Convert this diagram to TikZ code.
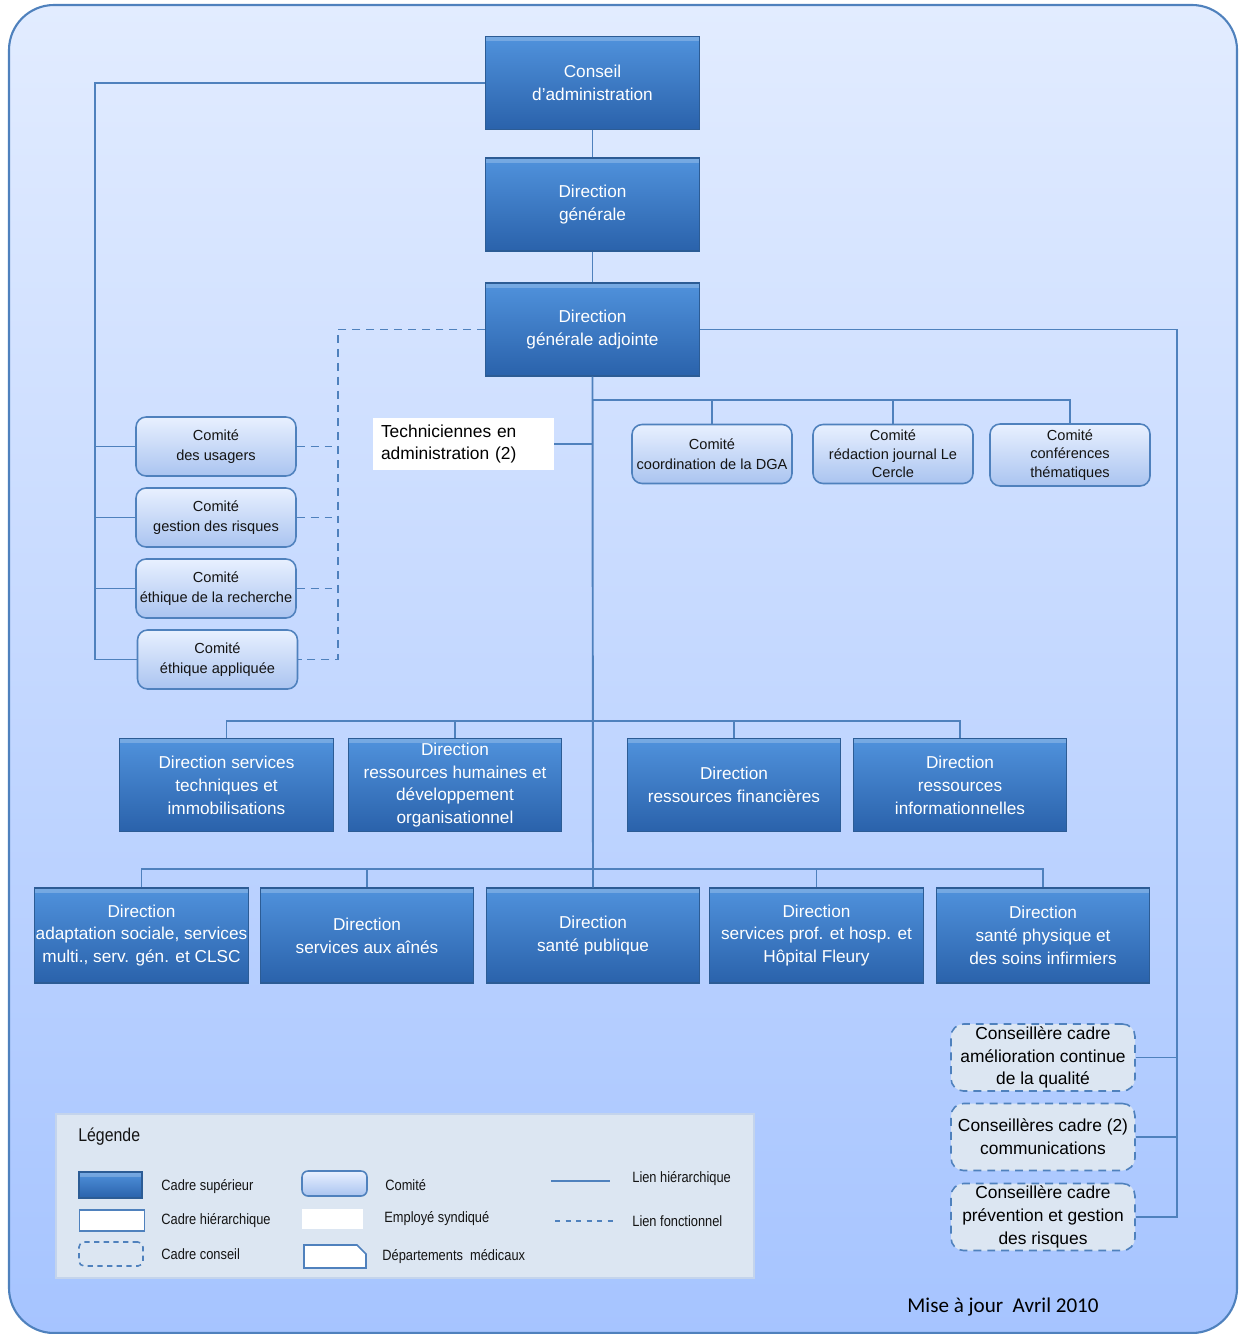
\documentclass[tikz,border=0pt]{standalone}
\usepackage{fontspec}
\setmainfont{Liberation Sans}
\newfontfamily\etroit{Liberation Sans}[FakeStretch=0.86]
\newfontfamily\calibri{Carlito}
\usetikzlibrary{positioning}

\definecolor{bleulien}{RGB}{79,129,189}
\definecolor{bordsup}{RGB}{44,92,149}
\definecolor{suphaut}{RGB}{80,146,220}
\definecolor{supbas}{RGB}{42,98,171}
\definecolor{comhaut}{RGB}{232,240,255}
\definecolor{combas}{RGB}{170,196,240}
\definecolor{gris}{RGB}{220,230,242}
\definecolor{legbord}{RGB}{196,212,236}
\definecolor{fondhaut}{RGB}{226,236,255}
\definecolor{fondbas}{RGB}{166,196,255}
\definecolor{texte}{RGB}{20,20,20}

\tikzset{
  cadresup/.style={draw=bordsup, line width=0.8pt, top color=suphaut, bottom color=supbas,
    text=white, minimum width=4.27cm, minimum height=1.86cm, inner sep=0pt, align=center,
    font=\fontsize{9.8}{13}\selectfont,
    path picture={\fill[white, opacity=0.22] (path picture bounding box.north west)
      rectangle ([yshift=-0.09cm]path picture bounding box.north east);}},
  comite/.style={draw=bleulien, line width=0.9pt, rounded corners=0.2cm, top color=comhaut,
    bottom color=combas, text=texte, minimum width=3.2cm, minimum height=1.18cm, inner sep=0pt,
    align=center, font=\fontsize{8.3}{11.3}\selectfont},
  conseil/.style={draw=bleulien, line width=0.9pt, dash pattern=on 4.5pt off 3.4pt,
    rounded corners=0.25cm, fill=gris, text=black, minimum width=3.68cm, minimum height=1.34cm,
    inner sep=0pt, align=center, font=\fontsize{9.9}{13}\selectfont},
  lien/.style={draw=bleulien, line width=1.1pt},
  fonct/.style={lien, dash pattern=on 4.5pt off 3.4pt},
  legtexte/.style={anchor=west, inner sep=0pt, text=texte, font=\etroit\fontsize{8.5}{10}\selectfont},
}

\begin{document}
\begin{tikzpicture}[x=0.02cm, y=-0.02cm]
\useasboundingbox (0,0) rectangle (1238,1334);
% Fond
\path[draw=bleulien, line width=1.2pt, top color=fondhaut, bottom color=fondbas,
  rounded corners=0.9cm] (9,5) rectangle (1237,1333);

% Haute direction
\node[cadresup] (ca) at (592.5,83) {Conseil\\d'administration};
\node[cadresup] (dg) at (592.5,204.5) {Direction\\générale};
\node[cadresup] (dga) at (592.5,329.5) {Direction\\générale adjointe};

% Comités de gauche
\foreach \n/\y/\txt in {c1/446.5/des usagers, c2/517.5/gestion des risques,
  c3/588.5/éthique de la recherche} {
  \node[comite] (\n) at (216,\y) {Comité\\\txt};
}
\node[comite] (c4) at (217.5,659.5) {Comité\\éthique appliquée};

% Comités de droite
\node[comite] (k1) at (712,454) {Comité\\coordination de la DGA};
\node[comite, font=\fontsize{8.3}{10.5}\selectfont] (k2) at (893,454) {Comité\\rédaction journal Le\\Cercle};
\node[comite, minimum height=1.24cm, font=\fontsize{8.3}{10.5}\selectfont] (k3) at (1070,455) {Comité\\conférences\\thématiques};

% Techniciennes
\node[fill=white, inner xsep=0.16cm, inner ysep=0pt, text width=3.3cm, minimum height=1.04cm,
  align=left, text=black, font=\fontsize{9.9}{12.5}\selectfont] (tech) at (463.5,444)
  {Techniciennes en\\administration (2)};

% Directions, rangée 1
\node[cadresup] (d1) at (226.5,785) {Direction services\\techniques et\\immobilisations};
\node[cadresup] (d2) at (455,785) {Direction\\ressources humaines et\\développement\\organisationnel};
\node[cadresup] (d3) at (734,785) {Direction\\ressources financières};
\node[cadresup] (d4) at (960,785) {Direction\\ressources\\informationnelles};

% Directions, rangée 2
\node[cadresup, minimum height=1.9cm] (e1) at (141.5,935.5) {Direction\\adaptation sociale, services\\multi., serv. gén. et CLSC};
\node[cadresup, minimum height=1.9cm] (e2) at (367,935.5) {Direction\\services aux aînés};
\node[cadresup, minimum height=1.9cm] (e3) at (593,935.5) {Direction\\santé publique};
\node[cadresup, minimum height=1.9cm] (e4) at (816.5,935.5) {Direction\\services prof. et hosp. et\\Hôpital Fleury};
\node[cadresup, minimum height=1.9cm] (e5) at (1043,935.5) {Direction\\santé physique et\\des soins infirmiers};

% Conseillères cadre
\node[conseil] (s1) at (1043,1057.5) {Conseillère cadre\\amélioration continue\\de la qualité};
\node[conseil] (s2) at (1043,1137) {Conseillères cadre (2)\\communications};
\node[conseil] (s3) at (1043,1217) {Conseillère cadre\\prévention et gestion\\des risques};

% Liens hiérarchiques
\draw[lien] (ca.south) -- (dg.north);
\draw[lien] (dg.south) -- (dga.north);
\coordinate (busG) at (95,659.5);
\draw[lien] (ca.west) -| (busG) -- (c4.west);
\foreach \c in {c1,c2,c3} \draw[lien] (\c.west) -- (\c.west -| busG);
\draw[lien] (dga.south) -- (e3.north);
\draw[lien] (tech.east) -- (tech.east -| dga.south);
\coordinate (hk) at (0,400);
\draw[lien] (dga.south |- hk) -| (k3.north);
\foreach \k in {k1,k2} \draw[lien] (\k.north) -- (\k.north |- hk);
\coordinate (h1) at (0,721);
\draw[lien] (d1.north) |- (d4.north |- h1) -- (d4.north);
\foreach \d in {d2,d3} \draw[lien] (\d.north) -- (\d.north |- h1);
\coordinate (h2) at (0,869);
\draw[lien] (e1.north) |- (e5.north |- h2) -- (e5.north);
\foreach \e in {e2,e4} \draw[lien] (\e.north) -- (\e.north |- h2);
\coordinate (busD) at (1177,1217);
\draw[lien] (dga.east) -| (busD) -- (s3.east);
\foreach \s in {s1,s2} \draw[lien] (\s.east) -- (\s.east -| busD);

% Liens fonctionnels
\coordinate (busF) at (338,659.5);
\draw[fonct] (dga.west) -| (busF) -- (c4.east);
\foreach \c in {c1,c2,c3} \draw[fonct] (\c.east) -- (\c.east -| busF);

% Légende
\draw[fill=gris, draw=legbord, line width=1.2pt] (56,1114) rectangle (754,1278);
\node[anchor=west, inner sep=0pt, text=texte, font=\etroit\fontsize{10.5}{12}\selectfont] (legtitre) at (78,1137) {Légende};
\node[cadresup, minimum width=1.26cm, minimum height=0.52cm, line width=0.6pt] (lsup) at (110.5,1185) {};
\node[legtexte] (tsup) at (161,1187) {Cadre supérieur};
\node[draw=bleulien, line width=0.9pt, fill=white, minimum width=1.3cm, minimum height=0.42cm, inner sep=0pt] (lhier) at (112,1220.5) {};
\node[legtexte] (thier) at (161,1221) {Cadre hiérarchique};
\node[draw=bleulien, line width=0.9pt, dash pattern=on 3pt off 2.5pt, rounded corners=0.1cm, minimum width=1.28cm, minimum height=0.48cm, inner sep=0pt] (lcons) at (111,1254) {};
\node[legtexte] (tcons) at (161,1254) {Cadre conseil};
\node[comite, minimum width=1.3cm, minimum height=0.5cm, rounded corners=0.12cm] (lcom) at (334.5,1183.5) {};
\node[legtexte] (tcom) at (385,1185) {Comité};
\node[fill=white, minimum width=1.22cm, minimum height=0.4cm, inner sep=0pt] (lsynd) at (332.5,1219) {};
\node[legtexte] (tsynd) at (384,1219) {Employé syndiqué};
\draw[bleulien, line width=0.9pt, fill=white] (304,1245) -- (357,1245) -- (366,1254) -- (366,1268) -- (304,1268) -- cycle;
\node[legtexte] (tmed) at (382,1257) {Départements\ \ médicaux};
\coordinate (lh1) at (551,1181);
\coordinate (lh2) at (610,1181);
\draw[lien, line width=0.9pt] (lh1) -- (lh2);
\node[legtexte] (tlh) at (632,1179) {Lien hiérarchique};
\coordinate (lf1) at (555,1221);
\coordinate (lf2) at (613,1221);
\draw[fonct, line width=0.9pt, dash pattern=on 3pt off 3pt] (lf1) -- (lf2);
\node[legtexte] (tlf) at (632,1221) {Lien fonctionnel};

% Mise à jour
\node[text=black, font=\calibri\fontsize{12}{14}\selectfont] (maj) at (1003,1307) {Mise à jour\ \ Avril 2010};
\end{tikzpicture}
\end{document}
